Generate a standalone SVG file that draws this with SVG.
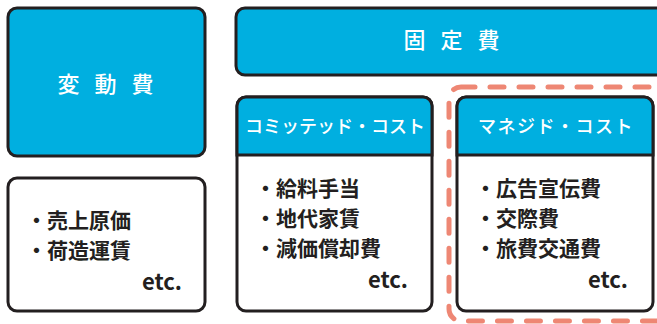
<svg xmlns="http://www.w3.org/2000/svg" width="657" height="324" viewBox="0 0 657 324">
<style>
.box{fill:#ffffff;stroke:#231f20;stroke-width:3}
.blue{fill:#00afe0;stroke:#231f20;stroke-width:3}
.ttl{font-family:"Noto Sans CJK JP","Noto Sans",sans-serif;font-size:22px;font-weight:500;fill:#ffffff;text-anchor:middle;letter-spacing:15px}
.hdr{font-family:"Noto Sans CJK JP","Noto Sans",sans-serif;font-size:18px;font-weight:500;fill:#ffffff;text-anchor:middle}
.item{font-family:"Noto Sans CJK JP","Noto Sans",sans-serif;font-size:21px;font-weight:700;fill:#231f20}
.etc{font-family:"Noto Sans CJK JP","Noto Sans",sans-serif;font-size:22px;font-weight:700;fill:#231f20;text-anchor:end}
.dash{fill:none;stroke:#ee8774;stroke-width:5;stroke-dasharray:14 15;stroke-linecap:round}
</style>
<rect width="657" height="324" fill="#ffffff"/>
<g id="connectors"/>
<g id="managed-group">
<rect class="dash" x="449" y="87" width="230" height="234" rx="12"/>
</g>
<g id="variable">
<rect class="blue" x="8" y="8" width="197" height="148" rx="9"/>
<text class="ttl" x="113" y="92">変動費</text>
</g>
<g id="variable-items">
<rect class="box" x="8" y="178" width="197" height="133" rx="9"/>
<text class="item" x="26" y="228">・売上原価</text>
<text class="item" x="26" y="258">・荷造運賃</text>
<text class="etc" x="182" y="290">etc.</text>
</g>
<g id="fixed">
<rect class="blue" x="236" y="8" width="440" height="67" rx="9"/>
<text class="ttl" x="459" y="48">固定費</text>
</g>
<g id="committed">
<rect class="box" x="237" y="97" width="195" height="214" rx="9"/>
<path class="blue" d="M237,155 V106 A9,9 0 0 1 246,97 H423 A9,9 0 0 1 432,106 V155 Z"/>
<text class="hdr" x="335" y="133">コミッテッド・コスト</text>
<text class="item" x="255" y="196">・給料手当</text>
<text class="item" x="255" y="226">・地代家賃</text>
<text class="item" x="255" y="256">・減価償却費</text>
<text class="etc" x="408" y="288">etc.</text>
</g>
<g id="managed">
<rect class="box" x="457" y="97" width="196" height="214" rx="9"/>
<path class="blue" d="M457,155 V106 A9,9 0 0 1 466,97 H644 A9,9 0 0 1 653,106 V155 Z"/>
<text class="hdr" x="556" y="133" letter-spacing="1.5">マネジド・コスト</text>
<text class="item" x="475" y="196">・広告宣伝費</text>
<text class="item" x="475" y="226">・交際費</text>
<text class="item" x="475" y="256">・旅費交通費</text>
<text class="etc" x="628" y="288">etc.</text>
</g>
</svg>
